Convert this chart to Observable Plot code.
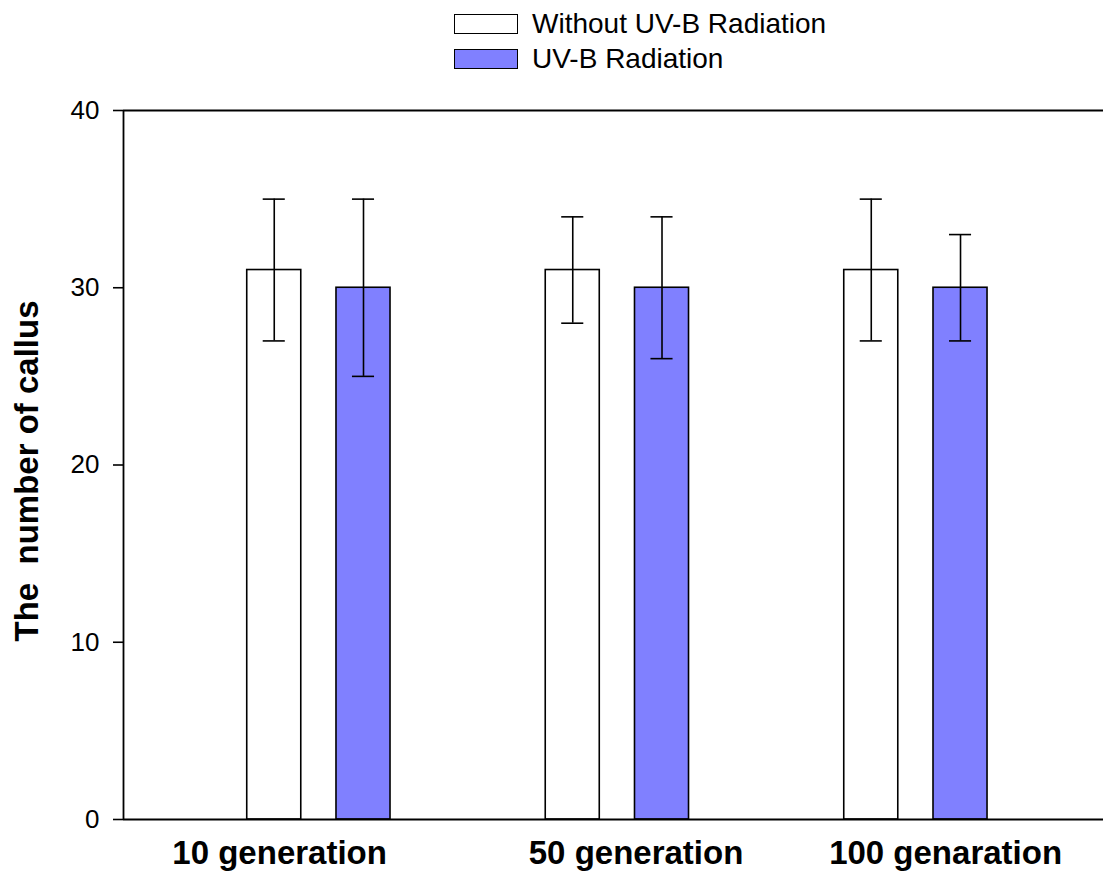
<!DOCTYPE html>
<html>
<head>
<meta charset="utf-8">
<script src="https://cdn.jsdelivr.net/npm/d3@7"></script>
<script src="https://cdn.jsdelivr.net/npm/@observablehq/plot@0.6"></script>
<style>
  html, body { margin: 0; padding: 0; background: #fff; }
  body { width: 1103px; height: 873px; position: relative; font-family: "Liberation Sans", Arial, sans-serif; overflow: hidden; }
  #legend { position: absolute; left: 0; top: 0; width: 1103px; height: 80px; }
  .item { position: absolute; left: 454px; display: flex; align-items: center; }
  .sw { width: 62px; height: 18px; border: 1.5px solid #000; box-sizing: content-box; }
  .lab { margin-left: 14px; font-size: 28px; line-height: 1; color: #000; }
  #chart { position: absolute; left: 0; top: 80px; }
</style>
</head>
<body>
<div id="legend"></div>
<div id="chart"></div>
<script>
// ---- data ----
const groups = ["10 generation", "50 generation", "100 genaration"];
const series = ["Without UV-B Radiation", "UV-B Radiation"];
const seriesColors = ["#ffffff", "#8080ff"];
const withoutUV = [31, 31, 31];
const withoutUVLow = [27, 28, 27];
const withoutUVHigh = [35, 34, 35];
const withUV = [30, 30, 30];
const withUVLow = [25, 26, 27];
const withUVHigh = [35, 34, 33];
const yTicks = [0, 10, 20, 30, 40];
const yTitle = "The\u00a0 number of callus";

// ---- layout constants ----
const barOffset = [-0.15, 0.149];
const halfBar = 0.0905;
const capHalf = 0.037;
const labelShift = [-0.132, 0.062, 0.099];

const rows = [];
groups.forEach((g, i) => {
  rows.push({gi: i, s: series[0], si: 0, v: withoutUV[i], lo: withoutUVLow[i], hi: withoutUVHigh[i]});
  rows.push({gi: i, s: series[1], si: 1, v: withUV[i], lo: withUVLow[i], hi: withUVHigh[i]});
});
const labels = groups.map((g, i) => ({g, x: i + labelShift[i]}));

// legend
const legend = document.getElementById("legend");
series.forEach((s, i) => {
  const item = document.createElement("div");
  item.className = "item";
  item.style.top = (i === 0 ? 10 : 45) + "px";
  const sw = document.createElement("div");
  sw.className = "sw";
  sw.style.background = seriesColors[i];
  const lab = document.createElement("span");
  lab.className = "lab";
  lab.textContent = s;
  item.appendChild(sw);
  item.appendChild(lab);
  legend.appendChild(item);
});

const xd = [-0.655, 2.628];
const chart = Plot.plot({
  width: 1103,
  height: 793,
  marginTop: 30,
  marginLeft: 123,
  marginRight: 0,
  marginBottom: 54,
  style: {fontFamily: "'Liberation Sans', Arial, sans-serif", background: "#fff", color: "#000"},
  x: {domain: xd, axis: null},
  y: {domain: [0, 40], axis: null},
  color: {domain: series, range: seriesColors},
  marks: [
    Plot.rect(rows, {
      x1: d => d.gi + barOffset[d.si] - halfBar,
      x2: d => d.gi + barOffset[d.si] + halfBar,
      y1: 0, y2: "v", fill: "s", stroke: "#000", strokeWidth: 1.6
    }),
    Plot.ruleX(rows, {x: d => d.gi + barOffset[d.si], y1: "lo", y2: "hi", stroke: "#000", strokeWidth: 1.6}),
    Plot.ruleY(rows, {y: "hi", x1: d => d.gi + barOffset[d.si] - capHalf, x2: d => d.gi + barOffset[d.si] + capHalf, stroke: "#000", strokeWidth: 1.6}),
    Plot.ruleY(rows, {y: "lo", x1: d => d.gi + barOffset[d.si] - capHalf, x2: d => d.gi + barOffset[d.si] + capHalf, stroke: "#000", strokeWidth: 1.6}),
    Plot.ruleY([0, 40], {stroke: "#000", strokeWidth: 1.8}),
    Plot.ruleX([xd[0]], {y1: 0, y2: 40, stroke: "#000", strokeWidth: 1.8}),
    Plot.axisY({ticks: yTicks, tickSize: 10, tickPadding: 14, fontSize: 26, label: null, strokeWidth: 1.6, tickFormat: d => String(d)}),
    Plot.text(labels, {x: "x", text: "g", frameAnchor: "bottom", dy: 34, lineAnchor: "middle", fontSize: 33, fontWeight: "bold"}),
    Plot.text([yTitle], {frameAnchor: "left", dx: -96, dy: 6, rotate: -90, textAnchor: "middle", lineAnchor: "middle", fontSize: 33, fontWeight: "bold"})
  ]
});
document.getElementById("chart").appendChild(chart);
</script>
</body>
</html>
